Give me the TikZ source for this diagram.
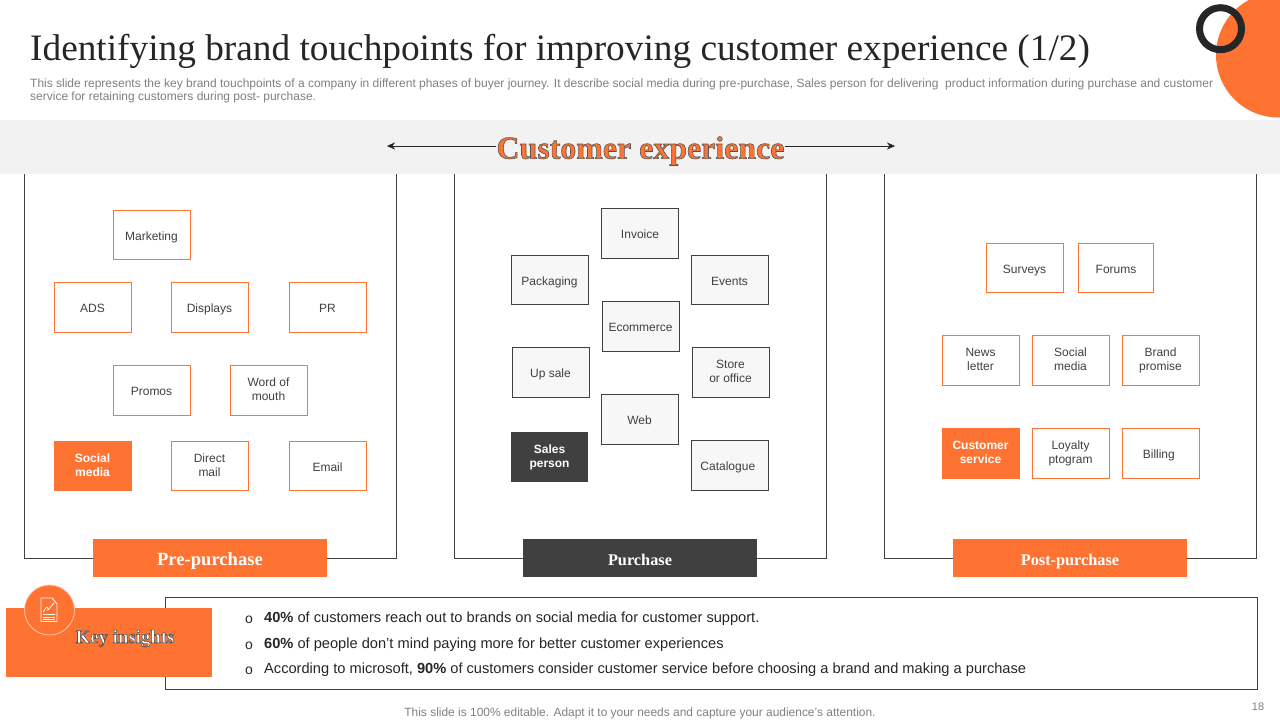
\documentclass[tikz,border=0pt]{standalone}
\usepackage{fontspec}
\setmainfont{Liberation Sans}
\newfontfamily\serifface{Liberation Serif}
\usepackage{tikz}
\usetikzlibrary{arrows.meta}
\definecolor{brandorange}{HTML}{FF7332}
\definecolor{brandink}{HTML}{404040}
\definecolor{ringink}{HTML}{262626}
\definecolor{bandgray}{HTML}{F2F2F2}
\definecolor{notegray}{HTML}{7F7F7F}
\newcommand{\outlined}[1]{\special{pdf:code q 2 Tr 0.6 w 0.33 0.33 0.33 RG}#1\special{pdf:code Q}}
\tikzset{
    touch/.style={draw=brandorange, fill=white, line width=.8pt, minimum width=77, minimum height=49.6, inner sep=0pt,
        align=center, text=brandink, font=\fontsize{12}{14}\selectfont,
        execute at begin node={\rule{0pt}{12.5pt}}, execute at end node={\rule[-2.5pt]{0pt}{2.5pt}}},
    touchgray/.style={touch, draw=brandink, fill=black!3},
    touchhot/.style={touch, draw=brandorange, fill=brandorange, text=white, font=\fontsize{12}{14}\selectfont\bfseries},
    touchdark/.style={touch, draw=brandink, fill=brandink, minimum width=76.4, text=white, font=\fontsize{12}{14}\selectfont\bfseries},
    phase/.style={minimum width=234, minimum height=38, inner sep=0pt, text=white, text height=15, text depth=1,
        font=\fontsize{16.3}{18}\selectfont\serifface\bfseries},
    insight/.style={anchor=base west, inner sep=0pt, text=ringink, font=\fontsize{14.63}{16}\selectfont},
    note/.style={anchor=base west, inner sep=0pt, text=notegray, font=\fontsize{11.99}{14}\selectfont},
}
\begin{document}
\begin{tikzpicture}[x=1pt, y=-1pt]
    \useasboundingbox (0,0) rectangle (1280,720);
    \fill[brandorange] (1278.5,55) circle (62.5);
    \draw[ringink, line width=7] (1220.5,28.7) circle (21);
    \node[anchor=base west, inner sep=0pt, text=ringink, font=\fontsize{37.3}{40}\selectfont\serifface] (title) at (30,60)
        {Identifying brand touchpoints for improving customer experience (1/2)};
    \node[note] (sub-1) at (30,87) {This slide represents the key brand touchpoints of a company in different phases of buyer journey. It describe social media during pre-purchase, Sales person for delivering\ \ product information during purchase and customer};
    \node[note] (sub-2) at (30,100) {service for retaining customers during post- purchase.};

    % three phases
    \foreach \px in {24,454,884} {
        \draw[brandink, line width=.8pt] (\px,170) rectangle (\px+372,558);
    }
    \fill[bandgray] (0,120) rectangle (1280,174);
    \node[text=brandorange, inner sep=0pt, font=\fontsize{31.9}{34}\selectfont\serifface\bfseries] (exp) at (640.5,151) {\outlined{Customer experience}};
    \coordinate (exp-l) at (387,146);
    \coordinate (exp-r) at (895,146);
    \draw[-{Stealth[length=8pt,width=7pt]}, ringink] (exp.west |- exp-l) -- (exp-l);
    \draw[-{Stealth[length=8pt,width=7pt]}, ringink] (exp.east |- exp-r) -- (exp-r);

    \node[phase, fill=brandorange, font=\fontsize{18.6}{20}\selectfont\serifface\bfseries] (pre) at (210,558) {Pre-purchase};
    \node[phase, fill=brandink] (pur) at (640,558) {Purchase};
    \node[phase, fill=brandorange] (post) at (1070,558) {Post-purchase};

    \foreach \nm/\x/\y/\lb in {
        mkt/151.5/235/Marketing, ads/92.5/307.5/ADS, dsp/209.5/307.5/Displays, pr/327.5/307.5/PR,
        pro/151.5/390.5/Promos, wom/268.5/390.5/{Word of\\mouth}, dir/209.5/466/{Direct\\mail}, eml/327.5/466/Email,
        srv/1024.5/268/Surveys, nws/980.5/360.5/{News\\letter}, soc/1070.5/360.5/{Social\\media},
        brd/1160.5/360.5/{Brand\\promise}, loy/1070.5/453.5/{Loyalty\\ptogram}, bil/1160.5/453.5/Billing
    } {
        \node[touch] (\nm) at (\x,\y) {\lb};
    }
    \node[touch, minimum width=75.6] (frm) at (1116,268) {Forums};
    \foreach \nm/\x/\y/\lb in {
        inv/640/233.5/Invoice, pkg/549.5/280/Packaging, evt/729.5/280/Events, eco/640.5/326.5/Ecommerce,
        ups/550.5/372.5/Up sale, sto/730.5/372.5/{Store\\or office}, web/639.5/419.5/Web, cat/729.5/465.5/Catalogue
    } {
        \node[touchgray] (\nm) at (\x,\y) {\lb};
    }
    \node[touchhot] (smd) at (92.5,466) {Social\\media};
    \node[touchhot] (csv) at (980.5,453.5) {Customer\\service};
    \node[touchdark] (spn) at (549.5,457) {Sales\\person};

    % key insights
    \draw[brandink, line width=.8pt] (165,597) rectangle (1257.5,689.5);
    \fill[brandorange] (6,608) rectangle (212,677);
    \node[text=white, inner sep=0pt, font=\fontsize{18.8}{20}\selectfont\serifface\bfseries] (key) at (125,638.5) {\outlined{Key insights}};
    \draw[fill=brandorange, draw=brandorange!40!white, line width=.8pt] (49.5,610) circle (25);
    \draw[white, line width=.8pt, line join=round] (41,598) -- (52,598) -- (57,604) -- (57,621.5) -- (41,621.5) -- cycle;
    \draw[white, line width=.8pt] (43.5,612) .. controls (46,606) and (48,606) .. (48,610) -- (54,603);
    \foreach \yy in {614.5,617,619.5} {
        \draw[white, line width=.8pt] (43,\yy) -- (55,\yy);
    }
    \foreach[count=\i] \yy/\tx in {
        622/{\textbf{40\%} of customers reach out to brands on social media for customer support.},
        648/{\textbf{60\%} of people don’t mind paying more for better customer experiences},
        673/{According to microsoft, \textbf{90\%} of customers consider customer service before choosing a brand and making a purchase}
    } {
        \node[insight] (ins-\i) at (264,\yy) {\tx};
        \node[anchor=base, inner sep=0pt, text=ringink, font=\fontsize{14}{14}\selectfont] (dot-\i) at (249,\yy+1) {o};
    }

    \node[inner sep=0pt, text=notegray, font=\fontsize{11.95}{14}\selectfont] (foot) at (640,713) {This slide is 100\% editable. Adapt it to your needs and capture your audience's attention.};
    \node[inner sep=0pt, text=notegray, font=\fontsize{11}{13}\selectfont] (num) at (1258,707) {18};
\end{tikzpicture}
\end{document}
